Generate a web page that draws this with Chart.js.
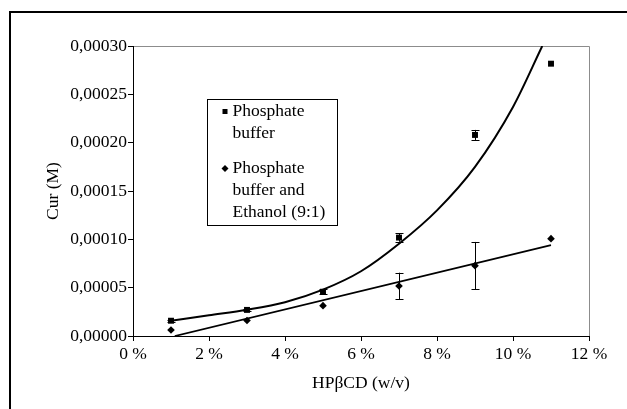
<!DOCTYPE html>
<html>
<head>
<meta charset="utf-8">
<script src="https://cdn.jsdelivr.net/npm/chart.js@4"></script>
<style>
  html, body { margin: 0; padding: 0; background: #fff; }
  #wrap { width: 627px; height: 409px; }
</style>
</head>
<body>
<div id="wrap"><canvas id="c" width="627" height="409"></canvas></div>
<script>
// ---- data ----
const concentrations = [1, 3, 5, 7, 9, 11];            // HPβCD % (w/v)
const phosphateBuffer = [0.0000158, 0.0000270, 0.0000458, 0.0001018, 0.0002080, 0.0002817];
const phosphateBufferErr = [0.0000010, 0.0000012, 0.0000025, 0.0000043, 0.0000052, 0];
const ethanolMix = [0.0000062, 0.0000160, 0.0000314, 0.0000517, 0.0000728, 0.0001007];
const ethanolMixErr = [0, 0, 0, 0.0000138, 0.0000245, 0];

// trend curves
const expTrendX = [1, 2, 3, 4, 5, 6, 7, 8, 9, 10, 10.77];
const expTrendY = [0.0000158, 0.0000215, 0.0000272, 0.0000350, 0.0000480, 0.0000670, 0.0000955, 0.0001300, 0.0001750, 0.0002370, 0.0003000];
const linTrendX = [1.1, 11];
const linTrendY = [0, 0.0000940];

const seriesLabels = ['Phosphate buffer', 'Phosphate buffer and Ethanol (9:1)'];
const legendLines = [['Phosphate', 'buffer'], ['Phosphate', 'buffer and', 'Ethanol (9:1)']];
const xTickValues = [0, 2, 4, 6, 8, 10, 12];
const yTickValues = [0, 0.00005, 0.0001, 0.00015, 0.0002, 0.00025, 0.0003];
const xTitle = 'HPβCD (w/v)';
const yTitle = 'Cur (M)';

const FONT = '"Liberation Serif", "Times New Roman", serif';
const pts = (xs, ys) => xs.map((x, i) => ({x, y: ys[i]}));

const frame = {
  id: 'frame',
  beforeDraw(chart) {
    const ctx = chart.ctx;
    ctx.save();
    ctx.fillStyle = '#fff';
    ctx.fillRect(0, 0, chart.width, chart.height);
    ctx.strokeStyle = '#000';
    ctx.lineWidth = 2;
    ctx.beginPath();
    ctx.moveTo(chart.width + 2, 12);
    ctx.lineTo(10, 12);
    ctx.lineTo(10, chart.height + 2);
    ctx.stroke();
    // top/right light plot border
    const a = chart.chartArea;
    ctx.strokeStyle = '#8c8c8c';
    ctx.lineWidth = 1;
    ctx.beginPath();
    ctx.moveTo(a.left, a.top + 0.5);
    ctx.lineTo(a.right + 0.5, a.top + 0.5);
    ctx.lineTo(a.right + 0.5, a.bottom);
    ctx.stroke();
    ctx.restore();
  }
};

const errorBars = {
  id: 'errorBars',
  afterDatasetsDraw(chart) {
    const ctx = chart.ctx;
    const xs = chart.scales.x, ys = chart.scales.y;
    ctx.save();
    ctx.strokeStyle = '#000';
    ctx.lineWidth = 1;
    chart.data.datasets.forEach(ds => {
      if (!ds.errors) return;
      ds.data.forEach((p, i) => {
        const e = ds.errors[i];
        if (!e) return;
        const px = Math.round(xs.getPixelForValue(p.x)) + 0.5;
        const y1 = ys.getPixelForValue(p.y - e);
        const y2 = ys.getPixelForValue(p.y + e);
        ctx.beginPath();
        ctx.moveTo(px, y1); ctx.lineTo(px, y2);
        ctx.moveTo(px - 4, Math.round(y1) + 0.5); ctx.lineTo(px + 4, Math.round(y1) + 0.5);
        ctx.moveTo(px - 4, Math.round(y2) + 0.5); ctx.lineTo(px + 4, Math.round(y2) + 0.5);
        ctx.stroke();
      });
    });
    ctx.restore();
  }
};

const boxLegend = {
  id: 'boxLegend',
  afterDraw(chart) {
    const ctx = chart.ctx;
    ctx.save();
    ctx.strokeStyle = '#000';
    ctx.lineWidth = 1;
    ctx.strokeRect(207.5, 99.5, 130, 126);
    ctx.fillStyle = '#000';
    ctx.font = '17.5px ' + FONT;
    ctx.textBaseline = 'middle';
    ctx.textAlign = 'left';
    const starts = [111.5, 168.5];
    const lh = 22.2;
    legendLines.forEach((lines, k) => {
      const ds = chart.data.datasets[k];
      const y0 = starts[k];
      // marker
      if (ds.pointStyle === 'rect') {
        ctx.fillRect(222.5, y0 - 2.5, 5, 5);
      } else {
        ctx.beginPath();
        ctx.moveTo(225, y0 - 3.5); ctx.lineTo(228.5, y0); ctx.lineTo(225, y0 + 3.5); ctx.lineTo(221.5, y0);
        ctx.closePath(); ctx.fill();
      }
      lines.forEach((t, j) => ctx.fillText(t, 232.5, y0 + j * lh));
    });
    ctx.restore();
  }
};

new Chart(document.getElementById('c'), {
  type: 'scatter',
  data: {
    datasets: [
      {
        label: seriesLabels[0],
        data: pts(concentrations, phosphateBuffer),
        errors: phosphateBufferErr,
        pointStyle: 'rect', pointRadius: 4.2,
        backgroundColor: '#000', borderColor: '#000', borderWidth: 0,
        showLine: false
      },
      {
        label: seriesLabels[1],
        data: pts(concentrations, ethanolMix),
        errors: ethanolMixErr,
        pointStyle: 'rectRot', pointRadius: 3.8,
        backgroundColor: '#000', borderColor: '#000', borderWidth: 0,
        showLine: false
      },
      {
        label: 'exp trend',
        data: pts(expTrendX, expTrendY),
        showLine: true, pointRadius: 0, borderColor: '#000', borderWidth: 2,
        cubicInterpolationMode: 'monotone', fill: false
      },
      {
        label: 'linear trend',
        data: pts(linTrendX, linTrendY),
        showLine: true, pointRadius: 0, borderColor: '#000', borderWidth: 1.8, fill: false
      }
    ]
  },
  options: {
    responsive: false,
    animation: false,
    devicePixelRatio: 1,
    layout: { padding: { top: 46, right: 38, left: 0, bottom: 0 } },
    plugins: { legend: { display: false }, tooltip: { enabled: false } },
    scales: {
      x: {
        type: 'linear', min: 0, max: 12,
        afterBuildTicks: s => { s.ticks = xTickValues.map(v => ({value: v})); },
        afterFit: s => { s.height = 73; },
        grid: { drawOnChartArea: false, drawTicks: true, tickLength: 5, color: '#000' },
        border: { color: '#000', width: 1 },
        ticks: { color: '#000', padding: 3, maxRotation: 0, font: { family: FONT, size: 17.5 },
                 callback: v => v + ' %' },
        title: { display: true, text: xTitle, color: '#000', font: { family: FONT, size: 17.5 },
                 padding: { top: 0, bottom: 15.5 } }
      },
      y: {
        type: 'linear', min: 0, max: 0.0003,
        afterBuildTicks: s => { s.ticks = yTickValues.map(v => ({value: v})); },
        afterFit: s => { s.width = 133; },
        grid: { drawOnChartArea: false, drawTicks: true, tickLength: 5, color: '#000' },
        border: { color: '#000', width: 1 },
        ticks: { color: '#000', padding: 1, font: { family: FONT, size: 17.5 },
                 callback: v => Number(v).toFixed(5).replace('.', ',') },
        title: { display: true, text: yTitle, color: '#000', font: { family: FONT, size: 17.5 },
                 padding: { top: 42.5, bottom: 0 } }
      }
    }
  },
  plugins: [frame, errorBars, boxLegend]
});
</script>
</body>
</html>
